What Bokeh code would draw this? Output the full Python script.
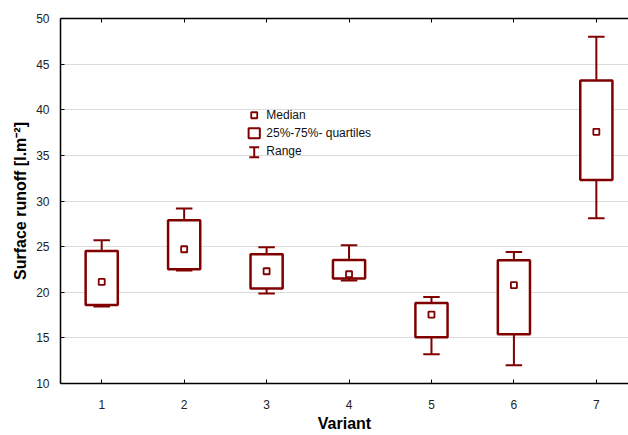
from bokeh.plotting import figure
from bokeh.models import LinearAxis, FixedTicker, Range1d
from bokeh.core.properties import value
from bokeh.embed import file_html
from bokeh.resources import INLINE

# data
variants = [1, 2, 3, 4, 5, 6, 7]
medians = [21.13, 24.71, 22.3, 21.97, 17.55, 20.77, 37.58]
q1 = [18.61, 22.52, 20.41, 21.5, 15.07, 15.4, 32.31]
q3 = [24.53, 27.89, 24.17, 23.54, 18.83, 23.51, 43.21]
mins = [18.43, 22.38, 19.86, 21.28, 13.2, 12.0, 28.11]
maxs = [25.7, 29.18, 24.93, 25.15, 19.48, 24.42, 47.99]
y_ticks = [10, 15, 20, 25, 30, 35, 40, 45, 50]
legend_labels = ["Median", "25%-75%- quartiles", "Range"]

RED = "#800000"
FONT = "Liberation Sans"

p = figure(width=628, height=435, output_backend="svg", toolbar_location=None,
           x_range=Range1d(0.5, 7.39), y_range=Range1d(10, 50),
           min_border_left=60, min_border_right=0, min_border_top=18, min_border_bottom=52)
p.outline_line_color = None
p.background_fill_color = "white"
p.border_fill_color = "white"

BW = 0.195
CW = 0.1
lo_box = [v - BW for v in variants]
hi_box = [v + BW for v in variants]
lo_cap = [v - CW for v in variants]
hi_cap = [v + CW for v in variants]

# whiskers
p.segment(x0=variants, y0=q3, x1=variants, y1=maxs, line_color=RED, line_width=2)
p.segment(x0=variants, y0=q1, x1=variants, y1=mins, line_color=RED, line_width=2)
p.segment(x0=lo_cap, y0=maxs, x1=hi_cap, y1=maxs, line_color=RED, line_width=2)
p.segment(x0=lo_cap, y0=mins, x1=hi_cap, y1=mins, line_color=RED, line_width=2)
# boxes
p.quad(left=lo_box, right=hi_box, bottom=q1, top=q3, fill_color="white",
       line_color=RED, line_width=2.5)
# medians
p.scatter(x=variants, y=medians, marker="square", size=6, fill_color="white",
          line_color=RED, line_width=1.8)

# manual legend
LX, TX = 2.85, 2.997
p.scatter(x=[LX], y=[39.4], marker="square", size=6, fill_color="white",
          line_color=RED, line_width=1.8)
p.quad(left=[LX - 0.068], right=[LX + 0.068], bottom=[36.87], top=[37.98],
       fill_color="white", line_color=RED, line_width=2)
p.segment(x0=[LX], y0=[34.8], x1=[LX], y1=[35.9], line_color=RED, line_width=2)
p.segment(x0=[LX - 0.06, LX - 0.06], y0=[34.8, 35.9], x1=[LX + 0.06, LX + 0.06],
          y1=[34.8, 35.9], line_color=RED, line_width=2)
p.text(x=[TX, TX, TX], y=[39.4, 37.42, 35.48], text=legend_labels,
       text_font=value(FONT), text_font_size="12px", text_color="#111",
       text_baseline="middle", text_align="left")

# grid
p.xgrid.grid_line_color = None
p.ygrid.grid_line_color = "#dcdcdc"
p.ygrid.grid_line_width = 1
p.ygrid.ticker = FixedTicker(ticks=y_ticks)

# axes
for ax in [p.xaxis[0], p.yaxis[0]]:
    ax.axis_line_color = "black"
    ax.axis_line_width = 1.5
    ax.major_tick_line_color = "black"
    ax.major_tick_in = 4
    ax.major_tick_out = 0
    ax.minor_tick_line_color = None
    ax.major_label_text_font = FONT
    ax.major_label_text_font_size = "12px"
    ax.major_label_text_color = "#222"
    ax.axis_label_text_font = FONT
    ax.axis_label_text_font_style = "bold"
    ax.axis_label_text_font_size = "16px"
    ax.axis_label_text_color = "black"

p.xaxis.ticker = FixedTicker(ticks=variants)
p.yaxis.ticker = FixedTicker(ticks=y_ticks)
p.xaxis.axis_label = "Variant"
p.yaxis.axis_label = "Surface runoff [l.m\u207b\u00b2]"
p.xaxis.major_label_standoff = 16
p.xaxis.axis_label_standoff = 3
p.yaxis.major_label_standoff = 11
p.yaxis.axis_label_standoff = 4

top = LinearAxis(ticker=FixedTicker(ticks=variants))
top.axis_line_color = "black"
top.axis_line_width = 1.5
top.major_tick_line_color = "black"
top.major_tick_in = 4
top.major_tick_out = 0
top.minor_tick_line_color = None
top.major_label_overrides = {v: "" for v in variants}
top.major_label_text_font_size = "1px"
top.major_label_standoff = 0
p.add_layout(top, "above")

open("out.html", "w").write(file_html(p, INLINE))
